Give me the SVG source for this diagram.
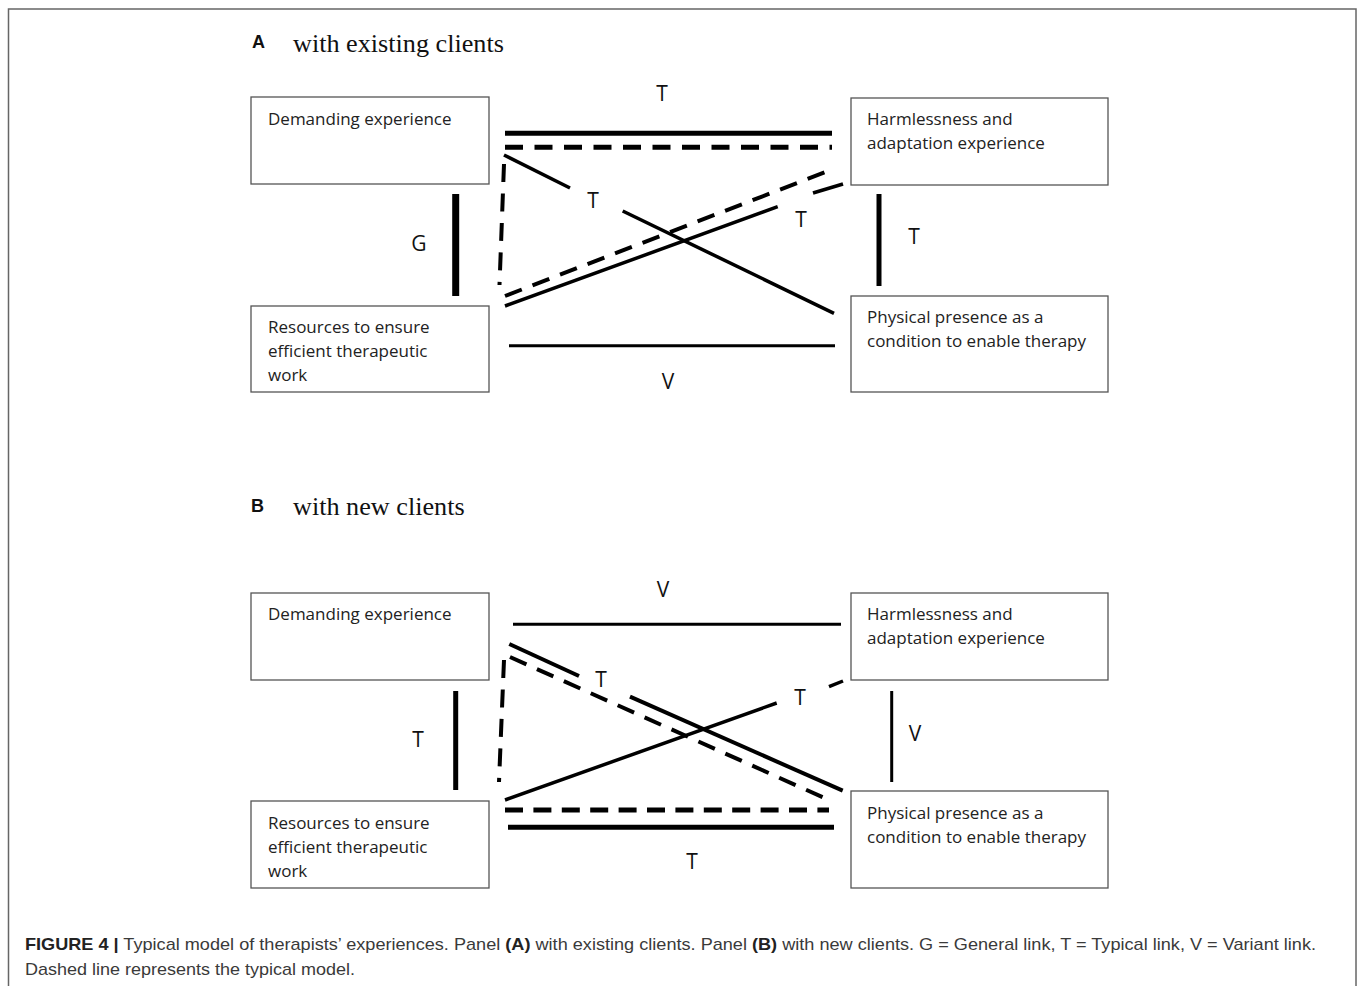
<svg xmlns="http://www.w3.org/2000/svg" width="1358" height="986" viewBox="0 0 1358 986">
<style>
.box{fill:#fff;stroke:#555;stroke-width:1.3}
.bt{font-family:"Open Sans","Liberation Sans",sans-serif;font-size:17px;fill:#222}
.lab{font-family:"Open Sans","Liberation Sans",sans-serif;font-size:21px;fill:#111;text-anchor:middle}
.hd{font-family:"Liberation Serif",serif;font-size:26.2px;fill:#111}
.pl{font-family:"Liberation Sans",sans-serif;font-size:18px;font-weight:bold;fill:#111}
.cap{font-family:"Liberation Sans",sans-serif;font-size:17px;fill:#3a3a3a}
.ln{stroke:#000;fill:none;stroke-linecap:butt}
.dash{stroke-dasharray:18 11.5}
</style>
<rect x="8.5" y="9" width="1347.5" height="990" fill="none" stroke="#666" stroke-width="1.5"/>

<text class="pl" x="252" y="48">A</text>
<text class="hd" x="293" y="52">with existing clients</text>
<text class="pl" x="251" y="512">B</text>
<text class="hd" x="293" y="515">with new clients</text>

<g id="A-demanding"><rect class="box" x="251" y="97" width="238" height="87"/><text class="bt" x="268" y="125">Demanding experience</text></g>
<g id="A-harmlessness"><rect class="box" x="851" y="98" width="257" height="87"/><text class="bt" x="867" y="125">Harmlessness and</text><text class="bt" x="867" y="149">adaptation experience</text></g>
<g id="A-resources"><rect class="box" x="251" y="306" width="238" height="86"/><text class="bt" x="268" y="333">Resources to ensure</text><text class="bt" x="268" y="357">efficient therapeutic</text><text class="bt" x="268" y="381">work</text></g>
<g id="A-physical"><rect class="box" x="851" y="296" width="257" height="96"/><text class="bt" x="867" y="323">Physical presence as a</text><text class="bt" x="867" y="347">condition to enable therapy</text></g>

<g id="B-demanding"><rect class="box" x="251" y="593" width="238" height="87"/><text class="bt" x="268" y="620">Demanding experience</text></g>
<g id="B-harmlessness"><rect class="box" x="851" y="593" width="257" height="87"/><text class="bt" x="867" y="620">Harmlessness and</text><text class="bt" x="867" y="644">adaptation experience</text></g>
<g id="B-resources"><rect class="box" x="251" y="801" width="238" height="87"/><text class="bt" x="268" y="829">Resources to ensure</text><text class="bt" x="268" y="853">efficient therapeutic</text><text class="bt" x="268" y="877">work</text></g>
<g id="B-physical"><rect class="box" x="851" y="791" width="257" height="97"/><text class="bt" x="867" y="819">Physical presence as a</text><text class="bt" x="867" y="843">condition to enable therapy</text></g>

<g id="connectors">
<!-- Panel A -->
<line class="ln" x1="505" y1="133.3" x2="832" y2="133.3" stroke-width="5"/>
<line class="ln dash" x1="505" y1="147.3" x2="832" y2="147.3" stroke-width="5"/>
<line class="ln dash" x1="504" y1="164" x2="499.5" y2="285" stroke-width="4"/>
<line class="ln" x1="504" y1="155" x2="570" y2="188" stroke-width="3.5"/>
<line class="ln" x1="622.7" y1="211" x2="834" y2="313.3" stroke-width="3.5"/>
<line class="ln dash" x1="505" y1="296" x2="835" y2="168.3" stroke-width="4"/>
<line class="ln" x1="505" y1="306" x2="777.7" y2="206.7" stroke-width="3.5"/>
<line class="ln" x1="813" y1="193" x2="843" y2="184" stroke-width="3.5"/>
<line class="ln" x1="509" y1="345.7" x2="835" y2="345.7" stroke-width="3"/>
<line class="ln" x1="455.7" y1="194" x2="455.7" y2="296" stroke-width="7"/>
<line class="ln" x1="879" y1="194" x2="879" y2="286" stroke-width="5"/>
<text class="lab" x="662" y="101">T</text>
<text class="lab" x="593" y="208">T</text>
<text class="lab" x="801" y="227">T</text>
<text class="lab" x="668" y="389">V</text>
<text class="lab" x="419" y="251">G</text>
<text class="lab" x="914" y="244">T</text>
<!-- Panel B -->
<line class="ln" x1="513" y1="624.3" x2="841" y2="624.3" stroke-width="3"/>
<line class="ln" x1="509.3" y1="644" x2="579" y2="676" stroke-width="4"/>
<line class="ln" x1="630" y1="696.7" x2="842.7" y2="790.7" stroke-width="4"/>
<line class="ln dash" x1="510" y1="657" x2="832.7" y2="801.7" stroke-width="4"/>
<line class="ln dash" x1="504" y1="660" x2="499" y2="782" stroke-width="4"/>
<line class="ln" x1="505" y1="800" x2="776.7" y2="703" stroke-width="3.5"/>
<line class="ln" x1="829" y1="686.7" x2="843" y2="681" stroke-width="3.5"/>
<line class="ln" x1="505" y1="810" x2="829" y2="810" stroke-width="5" stroke-dasharray="18 10.4"/>
<line class="ln" x1="508" y1="827.3" x2="834" y2="827.3" stroke-width="5"/>
<line class="ln" x1="455.7" y1="691" x2="455.7" y2="790" stroke-width="5"/>
<line class="ln" x1="891.7" y1="691" x2="891.7" y2="782" stroke-width="3"/>
<text class="lab" x="663" y="597">V</text>
<text class="lab" x="601" y="687">T</text>
<text class="lab" x="800" y="705">T</text>
<text class="lab" x="692" y="869">T</text>
<text class="lab" x="418" y="747">T</text>
<text class="lab" x="915" y="741">V</text>
</g>

<text class="cap" x="25" y="950" textLength="1291" lengthAdjust="spacingAndGlyphs"><tspan font-weight="bold" fill="#222">FIGURE 4 |</tspan> Typical model of therapists’ experiences. Panel <tspan font-weight="bold" fill="#222">(A)</tspan> with existing clients. Panel <tspan font-weight="bold" fill="#222">(B)</tspan> with new clients. G = General link, T = Typical link, V = Variant link.</text>
<text class="cap" x="25" y="975" textLength="330" lengthAdjust="spacingAndGlyphs">Dashed line represents the typical model.</text>
</svg>
